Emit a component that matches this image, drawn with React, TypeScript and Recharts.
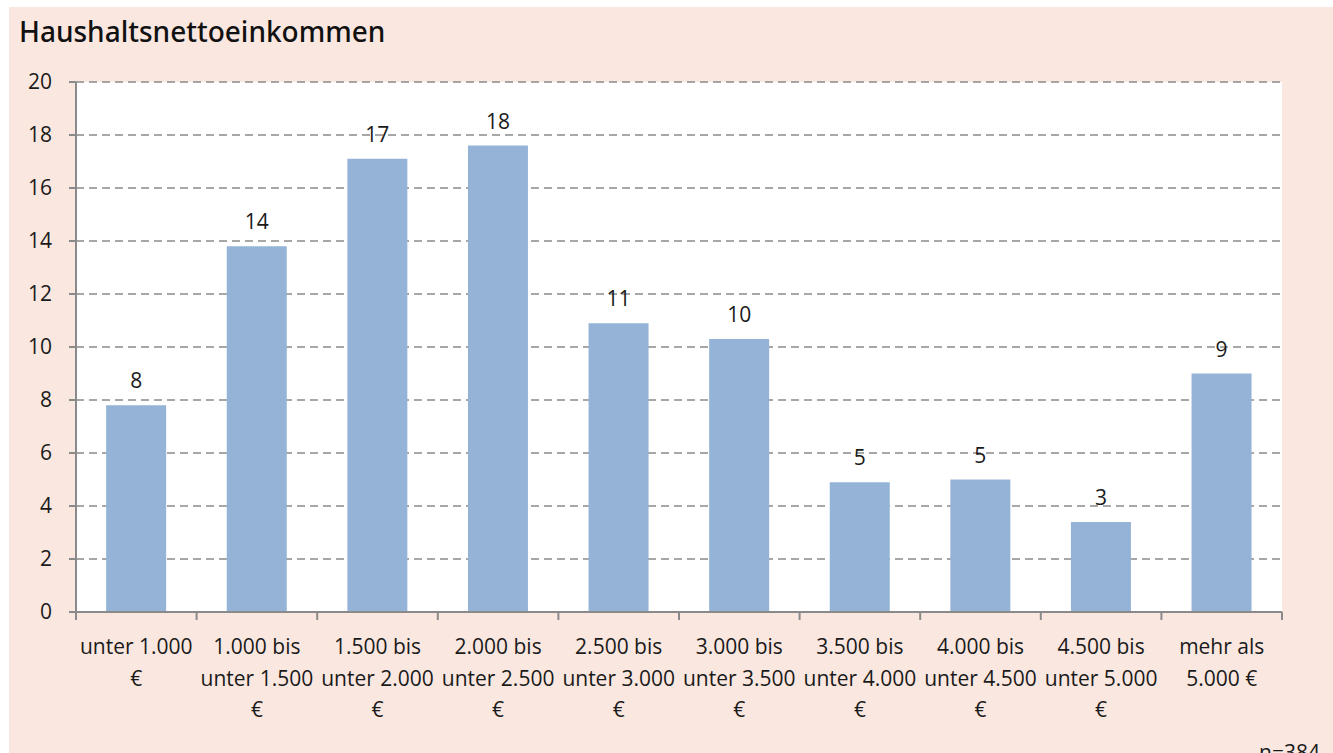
import React from 'react';
import { BarChart, Bar, XAxis, YAxis, CartesianGrid, LabelList } from 'recharts';

const categories: string[] = [
  'unter 1.000 €',
  '1.000 bis unter 1.500 €',
  '1.500 bis unter 2.000 €',
  '2.000 bis unter 2.500 €',
  '2.500 bis unter 3.000 €',
  '3.000 bis unter 3.500 €',
  '3.500 bis unter 4.000 €',
  '4.000 bis unter 4.500 €',
  '4.500 bis unter 5.000 €',
  'mehr als 5.000 €',
];

const categoryLines: string[][] = [
  ['unter 1.000', '€'],
  ['1.000 bis', 'unter 1.500', '€'],
  ['1.500 bis', 'unter 2.000', '€'],
  ['2.000 bis', 'unter 2.500', '€'],
  ['2.500 bis', 'unter 3.000', '€'],
  ['3.000 bis', 'unter 3.500', '€'],
  ['3.500 bis', 'unter 4.000', '€'],
  ['4.000 bis', 'unter 4.500', '€'],
  ['4.500 bis', 'unter 5.000', '€'],
  ['mehr als', '5.000 €'],
];

const values: number[] = [7.8, 13.8, 17.1, 17.6, 10.9, 10.3, 4.9, 5.0, 3.4, 9.0];
const valueLabels: string[] = ['8', '14', '17', '18', '11', '10', '5', '5', '3', '9'];
const yTicks: number[] = [0, 2, 4, 6, 8, 10, 12, 14, 16, 18, 20];

const data = categories.map((c, i) => ({
  category: c,
  value: values[i],
  label: valueLabels[i],
}));

const FONT = '"Open Sans", sans-serif';
const TEXT = '#1a1a1a';
const AXIS = '#8a8a8a';
const FS = 21;
const textStyle: React.CSSProperties = { fontWeight: 400 };

const CategoryTick = (props: any) => {
  const { x, y, index, payload } = props;
  const lines = categoryLines[index] || [];
  const half = payload && typeof payload.offset === 'number' && payload.offset > 0 ? payload.offset : 60.3;
  const axisY = y;
  return (
    <g>
      <line x1={x - half} x2={x - half} y1={axisY} y2={axisY + 8} stroke={AXIS} strokeWidth={2} />
      {index === categoryLines.length - 1 && (
        <line x1={x + half} x2={x + half} y1={axisY} y2={axisY + 8} stroke={AXIS} strokeWidth={2} />
      )}
      <text x={x} y={axisY} textAnchor="middle" fontSize={FS} fill={TEXT} fontFamily={FONT} style={textStyle}>
        {lines.map((l, i) => (
          <tspan key={i} x={x} y={axisY + 42 + i * 31.5}>
            {l}
          </tspan>
        ))}
      </text>
    </g>
  );
};

export default function App() {
  return (
    <div
      style={{
        position: 'absolute',
        left: 0,
        top: 0,
        width: 1333,
        height: 753,
        overflow: 'hidden',
        background: '#ffffff',
        fontFamily: FONT,
      }}
    >
      <div
        style={{
          position: 'absolute',
          left: 9,
          top: 7,
          width: 1324,
          height: 746,
          background: '#FAE8E0',
        }}
      />
      <div
        style={{
          position: 'absolute',
          left: 19,
          top: 13,
          fontFamily: '"Noto Sans", sans-serif',
          fontSize: 28,
          fontWeight: 500,
          lineHeight: '36px',
          color: '#111',
          whiteSpace: 'nowrap',
        }}
      >
        Haushaltsnettoeinkommen
      </div>
      <div style={{ position: 'absolute', left: 0, top: 0 }}>
        <BarChart
          width={1333}
          height={753}
          data={data}
          margin={{ top: 82, right: 51, bottom: 41, left: 0 }}
          barCategoryGap="25%"
        >
          <CartesianGrid
            vertical={false}
            stroke={AXIS}
            strokeWidth={1.5}
            strokeDasharray="8 5"
            fill="#ffffff"
            fillOpacity={1}
          />
          <XAxis
            dataKey="category"
            type="category"
            height={100}
            axisLine={{ stroke: AXIS, strokeWidth: 2 }}
            tickLine={false}
            tickSize={0}
            tickMargin={0}
            interval={0}
            tick={CategoryTick}
          />
          <YAxis
            width={76}
            domain={[0, 20]}
            ticks={yTicks}
            interval={0}
            tickSize={7}
            tickMargin={17}
            axisLine={{ stroke: AXIS, strokeWidth: 2 }}
            tickLine={{ stroke: AXIS, strokeWidth: 2 }}
            tick={{ fontSize: FS, fill: TEXT, fontFamily: FONT, style: textStyle }}
          />
          <Bar dataKey="value" fill="#95B3D7" isAnimationActive={false}>
            <LabelList
              dataKey="label"
              position="top"
              offset={17}
              fontSize={FS}
              fill={TEXT}
              fontFamily={FONT}
              style={textStyle}
            />
          </Bar>
        </BarChart>
      </div>
      <div
        style={{
          position: 'absolute',
          right: 13,
          top: 738,
          fontSize: FS,
          lineHeight: '28px',
          color: TEXT,
          fontFamily: FONT,
          ...textStyle,
        }}
      >
        n=384
      </div>
    </div>
  );
}
